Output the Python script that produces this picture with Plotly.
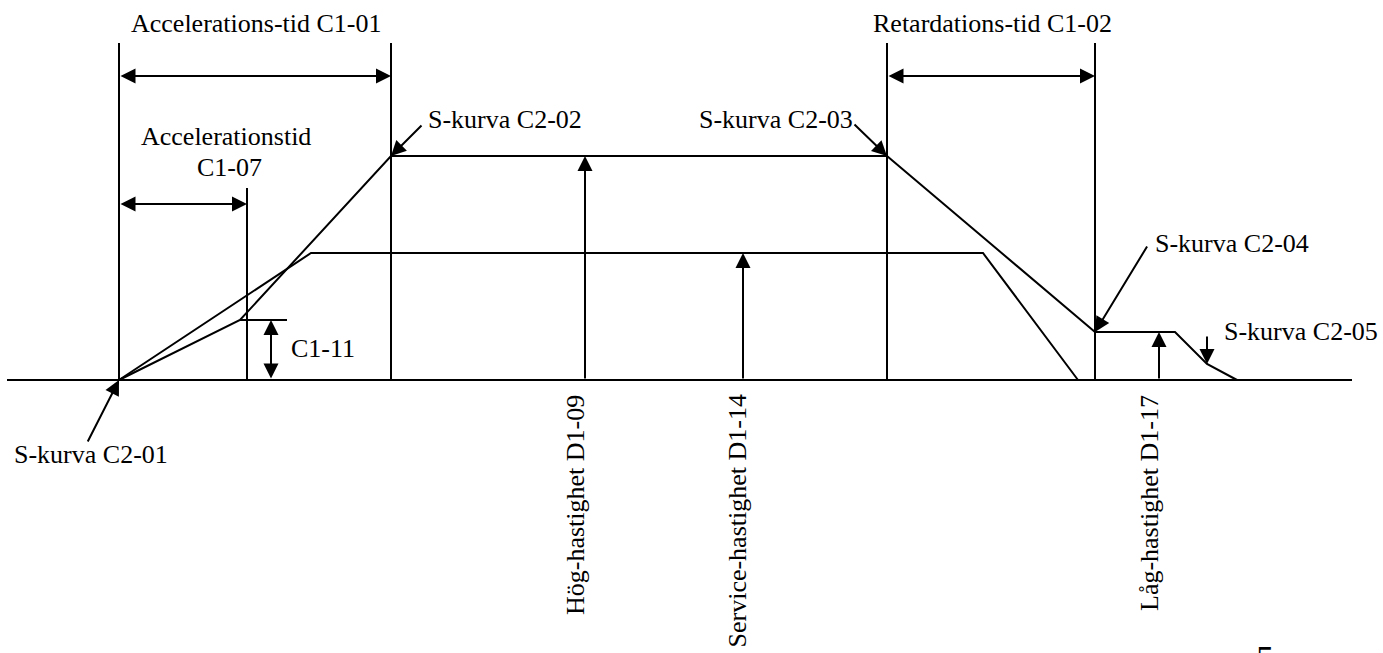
import plotly.graph_objects as go

# ---- data (time axis in px-like units, speed above baseline) ----
t_start = 119
t_c107 = 247
t_acc_end = 391
t_dec_start = 887
t_dec_end = 1095

high_curve_x = [119, 240, 391, 887, 1095, 1175, 1207, 1237]
high_curve_y = [0, 60, 224, 224, 48, 48, 16, 0]

service_curve_x = [119, 311, 983, 1078]
service_curve_y = [0, 127, 127, 0]

baseline_x = [7, 1352]
long_marker_x = [t_start, t_acc_end, t_dec_start, t_dec_end]
long_marker_top = 337
c107_top = 192

c111_level = 60
c111_tick_x = [240, 287]
c111_arrow_x = 271

speed_labels = ["Hög-hastighet D1-09", "Service-hastighet D1-14", "Låg-hastighet D1-17"]
speed_arrow_x = [585, 743, 1159]
speed_levels = [224, 127, 48]
speed_label_x = [575, 737, 1149]

dim_arrow_level = 304
c107_arrow_level = 176

scurve_labels = ["S-kurva C2-01", "S-kurva C2-02", "S-kurva C2-03", "S-kurva C2-04", "S-kurva C2-05"]
scurve_tip_x = [119, 391, 887, 1095, 1207]
scurve_tip_y = [0, 224, 224, 48, 16]
scurve_tail_x = [87, 423, 853, 1148, 1207]
scurve_tail_y = [-63, 256, 257, 135, 45]
scurve_text_x = [12, 426, 855, 1153, 1222]
scurve_text_y = [-74, 261, 261, 137, 49]
scurve_text_anchor = ["left", "left", "right", "left", "left"]

FONT = dict(family="Liberation Serif, Times New Roman, serif", size=26, color="black")
LINE = dict(color="black", width=2)

fig = go.Figure()

# baseline
fig.add_trace(go.Scatter(x=baseline_x, y=[0, 0], mode="lines", line=LINE, hoverinfo="skip"))
# curves
fig.add_trace(go.Scatter(x=high_curve_x, y=high_curve_y, mode="lines", line=LINE, hoverinfo="skip"))
fig.add_trace(go.Scatter(x=service_curve_x, y=service_curve_y, mode="lines", line=LINE, hoverinfo="skip"))
# vertical time markers
for xv in long_marker_x:
    fig.add_trace(go.Scatter(x=[xv, xv], y=[0, long_marker_top], mode="lines", line=LINE, hoverinfo="skip"))
fig.add_trace(go.Scatter(x=[t_c107, t_c107], y=[0, c107_top], mode="lines", line=LINE, hoverinfo="skip"))
# C1-11 tick
fig.add_trace(go.Scatter(x=c111_tick_x, y=[c111_level, c111_level], mode="lines", line=LINE, hoverinfo="skip"))


def arrow(x0, y0, x1, y1, both=False):
    fig.add_annotation(x=x1, y=y1, ax=x0, ay=y0, xref="x", yref="y", axref="x", ayref="y",
                       text="", showarrow=True, arrowhead=2, arrowsize=1.5, arrowwidth=2,
                       arrowcolor="black", arrowside="end+start" if both else "end",
                       startarrowhead=2, startarrowsize=1.5, standoff=0, startstandoff=0)


def label(x, y, text, xanchor="center", yanchor="middle", angle=0, size=None):
    f = dict(FONT)
    if size:
        f["size"] = size
    fig.add_annotation(x=x, y=y, xref="x", yref="y", text=text, showarrow=False,
                       xanchor=xanchor, yanchor=yanchor, textangle=angle, font=f)


# dimension arrows
arrow(t_start, dim_arrow_level, t_acc_end, dim_arrow_level, both=True)
arrow(t_dec_start, dim_arrow_level, t_dec_end, dim_arrow_level, both=True)
arrow(t_start, c107_arrow_level, t_c107, c107_arrow_level, both=True)
arrow(c111_arrow_x, 0, c111_arrow_x, c111_level, both=True)

# speed arrows + rotated labels
for xa, lv, xl, txt in zip(speed_arrow_x, speed_levels, speed_label_x, speed_labels):
    arrow(xa, 0, xa, lv)
    label(xl, -13, txt, xanchor="center", yanchor="top", angle=-90)

# S-curve pointers
for lab, tx, ty, ax_, ay_, lx, ly, anc in zip(scurve_labels, scurve_tip_x, scurve_tip_y,
                                             scurve_tail_x, scurve_tail_y,
                                             scurve_text_x, scurve_text_y, scurve_text_anchor):
    arrow(ax_, ay_, tx, ty)
    label(lx, ly, lab, xanchor=anc)

# other texts
label(256, 357, "Accelerations-tid C1-01")
label(992, 357, "Retardations-tid C1-02")
label(226, 244, "Accelerationstid")
label(229, 213, "C1-07")
label(289, 32, "C1-11", xanchor="left")
label(1265, -257, "5", yanchor="top", size=36)

fig.update_layout(
    width=1383, height=653, autosize=False,
    margin=dict(l=0, r=0, t=0, b=0),
    paper_bgcolor="white", plot_bgcolor="white",
    showlegend=False,
    xaxis=dict(range=[0, 1383], visible=False, fixedrange=True),
    yaxis=dict(range=[-273, 380], visible=False, fixedrange=True),
)

fig.write_html("out.html", config={"displayModeBar": False},
               post_script="document.body.style.margin='0';")
